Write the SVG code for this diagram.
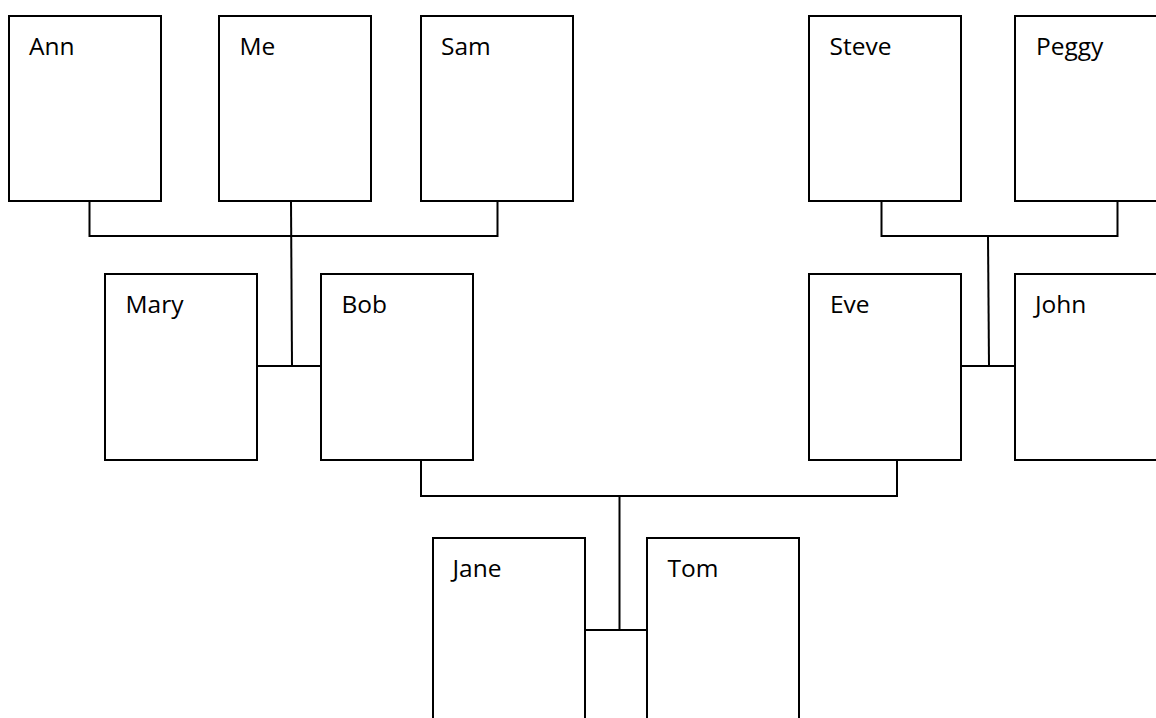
<svg xmlns="http://www.w3.org/2000/svg" width="1156" height="718" viewBox="0 0 1156 718">
<style>
.box{fill:#fff;stroke:#000;stroke-width:2}
.lbl{font-family:"Open Sans","Noto Sans",sans-serif;font-size:24.5px;fill:#000}
.con{fill:none;stroke:#000;stroke-width:2}
</style>
<rect width="1156" height="718" fill="#fff"/>
<g id="connectors">
<polyline class="con" points="89.5,201 89.5,236 497.5,236 497.5,201"/>
<line class="con" x1="291" y1="201" x2="292" y2="366"/>
<line class="con" x1="257" y1="366" x2="321" y2="366"/>
<polyline class="con" points="881.5,201 881.5,236 1117.5,236 1117.5,201"/>
<line class="con" x1="988" y1="236" x2="989" y2="366"/>
<line class="con" x1="961" y1="366" x2="1015" y2="366"/>
<polyline class="con" points="421,460 421,496 897,496 897,460"/>
<line class="con" x1="619.5" y1="496" x2="619.5" y2="630"/>
<line class="con" x1="585" y1="630" x2="647" y2="630"/>
</g>
<g id="ann"><rect class="box" x="9" y="16" width="152" height="185"/><text class="lbl" x="29" y="55">Ann</text></g>
<g id="me"><rect class="box" x="219" y="16" width="152" height="185"/><text class="lbl" x="239.5" y="55">Me</text></g>
<g id="sam"><rect class="box" x="421" y="16" width="152" height="185"/><text class="lbl" x="441" y="55">Sam</text></g>
<g id="steve"><rect class="box" x="809" y="16" width="152" height="185"/><text class="lbl" x="829.5" y="55">Steve</text></g>
<g id="peggy"><rect class="box" x="1015" y="16" width="152" height="185"/><text class="lbl" x="1036" y="55">Peggy</text></g>
<g id="mary"><rect class="box" x="105" y="274" width="152" height="186"/><text class="lbl" x="125.5" y="313">Mary</text></g>
<g id="bob"><rect class="box" x="321" y="274" width="152" height="186"/><text class="lbl" x="341.5" y="313">Bob</text></g>
<g id="eve"><rect class="box" x="809" y="274" width="152" height="186"/><text class="lbl" x="830" y="313">Eve</text></g>
<g id="john"><rect class="box" x="1015" y="274" width="152" height="186"/><text class="lbl" x="1035" y="313">John</text></g>
<g id="jane"><rect class="box" x="433" y="538" width="152" height="200"/><text class="lbl" x="452.5" y="577">Jane</text></g>
<g id="tom"><rect class="box" x="647" y="538" width="152" height="200"/><text class="lbl" x="667.5" y="577">Tom</text></g>
</svg>
